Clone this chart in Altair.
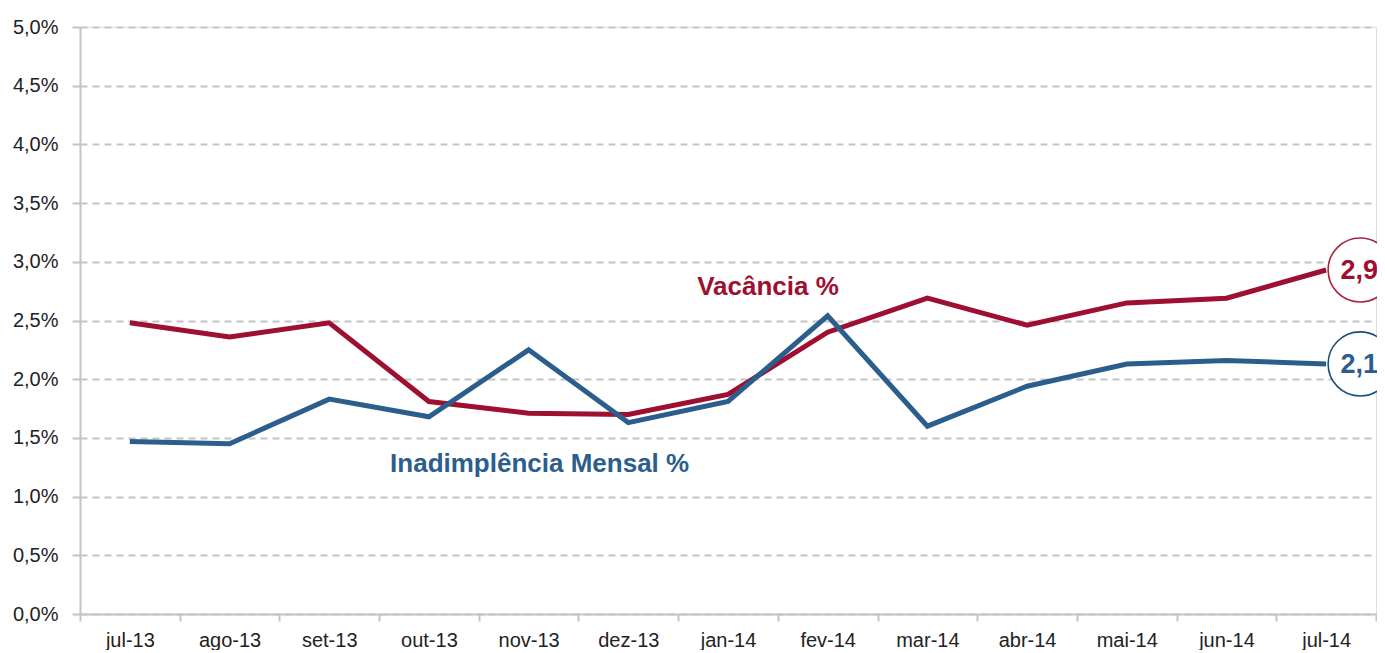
import altair as alt
import pandas as pd

months = ["jul-13", "ago-13", "set-13", "out-13", "nov-13", "dez-13", "jan-14",
          "fev-14", "mar-14", "abr-14", "mai-14", "jun-14", "jul-14"]
vacancia = [2.48, 2.36, 2.48, 1.81, 1.71, 1.70, 1.87, 2.40, 2.69, 2.46, 2.65, 2.69, 2.93]
inadimplencia = [1.47, 1.45, 1.83, 1.68, 2.25, 1.63, 1.81, 2.54, 1.60, 1.94, 2.13, 2.16, 2.13]
y_ticks = [0.0, 0.5, 1.0, 1.5, 2.0, 2.5, 3.0, 3.5, 4.0, 4.5, 5.0]
end_labels = ["2,9", "2,1"]
series_names = ["Vacância %", "Inadimplência Mensal %"]

RED = "#9E0F30"
BLUE = "#2B5E8D"
RED_RING = "#A8233F"
BLUE_RING = "#1E4C78"

df = pd.DataFrame({
    "mes": months * 2,
    "valor": vacancia + inadimplencia,
    "serie": [series_names[0]] * len(months) + [series_names[1]] * len(months),
})

last = pd.DataFrame({
    "mes": [months[-1], months[-1]],
    "valor": [vacancia[-1], inadimplencia[-1]],
    "rotulo": end_labels,
    "serie": series_names,
})

notes = pd.DataFrame({
    "mes": ["jan-14", "nov-13"],
    "valor": [2.785, 1.278],
    "texto": series_names,
})

x_enc = alt.X(
    "mes:N", sort=months, title=None,
    scale=alt.Scale(type="band", domain=months, paddingInner=0, paddingOuter=0),
    axis=alt.Axis(
        tickBand="extent", labelAngle=0, labelFontSize=20, labelColor="#222222",
        labelFont="Liberation Sans", tickColor="#c4c4c4", tickSize=7, tickWidth=2,
        domainColor="#c4c4c4", domainWidth=2, labelPadding=9, grid=False,
    ),
)
y_enc = alt.Y(
    "valor:Q", title=None,
    scale=alt.Scale(domain=[0, 5], nice=False, zero=True),
    axis=alt.Axis(
        values=y_ticks, labelExpr="replace(format(datum.value, '.1f'), '.', ',') + '%'",
        labelFontSize=20, labelColor="#222222", labelFont="Liberation Sans",
        tickColor="#c4c4c4", tickSize=8, tickWidth=2, labelPadding=14,
        domainColor="#c4c4c4", domainWidth=2,
        grid=True, gridColor="#c4c4c4", gridDash=[7, 5], gridWidth=2,
    ),
)
color_scale = alt.Scale(domain=series_names, range=[RED, BLUE])

red_line = alt.Chart(df[df.serie == series_names[0]]).mark_line(
    strokeWidth=5, color=RED).encode(x=x_enc, y=y_enc)
blue_line = alt.Chart(df[df.serie == series_names[1]]).mark_line(
    strokeWidth=5, color=BLUE).encode(x=alt.X("mes:N", sort=months), y=alt.Y("valor:Q"))

rings = alt.Chart(last).mark_point(
    shape="circle", size=4100, filled=False, fill="white", fillOpacity=1,
    strokeWidth=1.6, xOffset=34, opacity=1,
).encode(
    x=alt.X("mes:N", sort=months), y=alt.Y("valor:Q"),
    stroke=alt.Stroke("serie:N", scale=alt.Scale(domain=series_names,
                                                  range=[RED_RING, BLUE_RING]), legend=None),
)

ring_text = alt.Chart(last).mark_text(
    font="Liberation Sans", fontWeight="bold", fontSize=27, dx=33, dy=1,
    align="center", baseline="middle",
).encode(
    x=alt.X("mes:N", sort=months), y=alt.Y("valor:Q"), text="rotulo:N",
    color=alt.Color("serie:N", scale=color_scale, legend=None),
)

note_v = alt.Chart(notes[notes.texto == series_names[0]]).mark_text(
    font="Liberation Sans", fontWeight="bold", fontSize=26, align="center", baseline="middle",
    dx=40, color=RED,
).encode(x=alt.X("mes:N", sort=months), y=alt.Y("valor:Q"), text="texto:N")

note_i = alt.Chart(notes[notes.texto == series_names[1]]).mark_text(
    font="Liberation Sans", fontWeight="bold", fontSize=26, align="center", baseline="middle",
    dx=11, color=BLUE,
).encode(x=alt.X("mes:N", sort=months), y=alt.Y("valor:Q"), text="texto:N")

chart = alt.layer(red_line, blue_line, rings, ring_text, note_v, note_i).properties(
    width=1296, height=587,
    autosize=alt.AutoSizeParams(type="none"),
    padding={"left": 72, "top": 19, "right": 1, "bottom": 36},
).configure_view(stroke=None).configure(background="white")

chart.save("out.html", embed_options={"renderer": "svg", "actions": False})
